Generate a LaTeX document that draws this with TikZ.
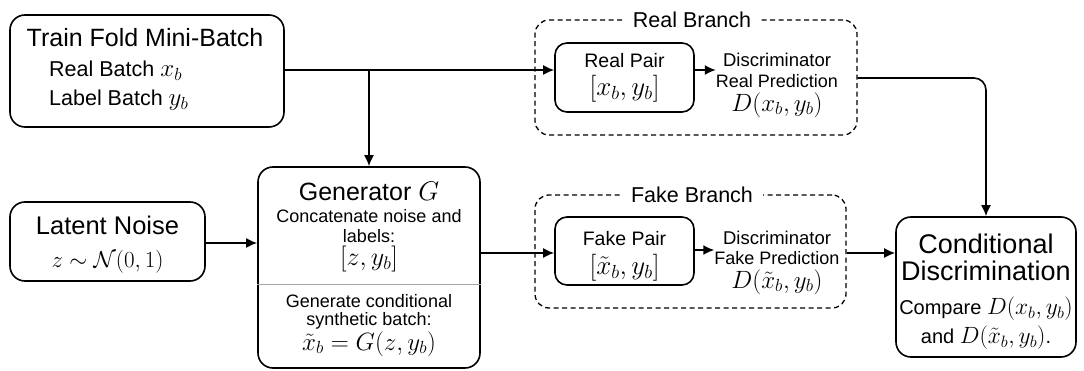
\RequirePackage{fix-cm}
\documentclass[tikz,border=0pt]{standalone}
\usepackage{fontspec}
\setmainfont{Liberation Sans}
\usetikzlibrary{arrows.meta,calc}
\newcommand\fsz[1]{\fontsize{#1}{#1}\selectfont}
\newcommand\mth[2]{{\fontsize{#1}{#1}\selectfont$#2$}}
\begin{document}
\begin{tikzpicture}[x=1pt,y=-1pt,
  box/.style={draw, line width=1.6pt, rounded corners=15pt, inner sep=0pt},
  pbox/.style={draw, line width=1.6pt, rounded corners=12pt, inner sep=0pt},
  dbox/.style={draw, line width=1.3pt, dash pattern=on 5pt off 3.5pt, rounded corners=14pt, inner sep=0pt},
  arr/.style={line width=1.6pt, -{Latex[length=11pt,width=10pt]}},
  txt/.style={inner sep=0pt, align=center},
  btitle/.style={fill=white, inner xsep=10pt, inner ysep=2pt}]
\useasboundingbox (0,0) rectangle (1084,371);

% boxes
\node[box, minimum width=274pt, minimum height=112pt] (train) at (147,71) {};
\node[box, minimum width=195pt, minimum height=79pt] (latent) at (107.5,241.5) {};
\node[box, minimum width=222pt, minimum height=201pt] (gen) at (369,267.5) {};
\node[dbox, minimum width=322pt, minimum height=115pt] (realD) at (696,77.5) {};
\node[pbox, minimum width=139pt, minimum height=69pt] (realpair) at (624.5,77.5) {};
\node[dbox, minimum width=311pt, minimum height=113pt] (fakeD) at (690.5,251.5) {};
\node[pbox, minimum width=139pt, minimum height=68pt] (fakepair) at (624.5,251) {};
\node[box, minimum width=180pt, minimum height=140pt] (cond) at (986,287) {};

% branch titles
\node[btitle] (rtitle) at (692,20) {\fsz{21.5}Real Branch};
\node[btitle] (ftitle) at (692,195) {\fsz{21.5}Fake Branch};

% train texts
\node[txt] (t1) at (145,38) {\fsz{25}Train Fold Mini-Batch};
\node[txt, anchor=west] (t2) at (49,71) {\fsz{21.5}Real Batch \mth{25}{x_b}};
\node[txt, anchor=west] (t3) at (49,100) {\fsz{21.5}Label Batch \mth{25}{y_b}};

% latent texts
\node[txt] (l1) at (107.5,225) {\fsz{25.5}Latent Noise};
\node[txt] (l2) at (107.5,262) {\mth{23}{z\sim\mathcal{N}(0,1)}};

% generator texts
\node[txt] (g1) at (369,191) {\fsz{25}Generator \mth{27}{G}};
\node[txt] (g2) at (369,216) {\fsz{18}Concatenate noise and};
\node[txt] (g3) at (369,236) {\fsz{18}labels:};
\node[txt] (g4) at (369,259) {\mth{26}{[z,y_b]}};
\node[txt] (g5) at (369,301) {\fsz{18}Generate conditional};
\node[txt] (g6) at (369,321) {\fsz{18}synthetic batch:};
\node[txt] (g7) at (369,344) {\mth{25}{\tilde{x}_b=G(z,y_b)}};
\draw[gray!70, line width=1pt] (gen.west |- 0,285) -- (gen.east |- 0,285);

% real pair texts
\node[txt] (rp1) at (624.5,61) {\fsz{19.5}Real Pair};
\node[txt] (rp2) at (624.5,89) {\mth{27}{[x_b,y_b]}};
\node[txt] (rd1) at (777,60) {\fsz{18.5}Discriminator};
\node[txt] (rd2) at (777,81) {\fsz{18}Real Prediction};
\node[txt] (rd3) at (777,105) {\mth{25}{D(x_b,y_b)}};

% fake pair texts
\node[txt] (fp1) at (624.5,239) {\fsz{19.5}Fake Pair};
\node[txt] (fp2) at (624.5,268) {\mth{27}{[\tilde{x}_b,y_b]}};
\node[txt] (fd1) at (777,238) {\fsz{18.5}Discriminator};
\node[txt] (fd2) at (777,258) {\fsz{18}Fake Prediction};
\node[txt] (fd3) at (777,282) {\mth{25}{D(\tilde{x}_b,y_b)}};

% conditional texts
\node[txt] (c1) at (986,244) {\fsz{27}Conditional};
\node[txt] (c2) at (986,271) {\fsz{27}Discrimination};
\node[txt] (c3) at (986,309) {\fsz{20}Compare \mth{23.5}{D(x_b,y_b)}};
\node[txt] (c4) at (986,338) {\fsz{20}and \mth{23.5}{D(\tilde{x}_b,y_b)}.};

% connector coordinates
\coordinate (yr) at (0,70);
\coordinate (yf) at (0,250);
\coordinate (yg) at (0,253);
\coordinate (yo) at (0,78);
\coordinate (br) at (gen.north |- yr);
\coordinate (corner) at (cond.north |- yo);

% connectors
\draw[arr] (train.east |- yr) -- (realpair.west |- yr);
\draw[arr] (br) -- (gen.north);
\draw[arr] (realpair.east |- yr) -- (rd2.west |- yr);
\draw[arr] (latent.east |- 0,243) -- (gen.west |- 0,243);
\draw[arr] (gen.east |- yg) -- (fakepair.west |- yg);
\draw[arr] (fakepair.east |- yf) -- (fd2.west |- yf);
\draw[arr] (fakeD.east |- yg) -- (cond.west |- yg);
\draw[arr, rounded corners=12pt] (realD.east |- yo) -- (corner) -- (cond.north);
\end{tikzpicture}
\end{document}
